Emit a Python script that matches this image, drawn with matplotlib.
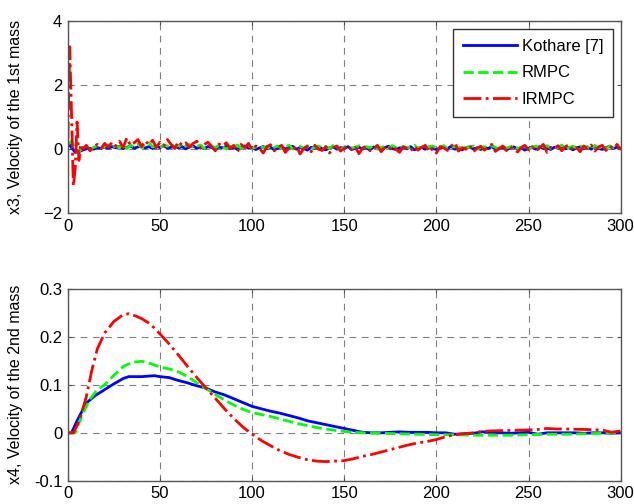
import numpy as np
import matplotlib
matplotlib.use("Agg")
import matplotlib.pyplot as plt

plt.rcParams['font.family'] = ['Liberation Sans', 'DejaVu Sans']

# ---- top panel: x3, velocity of the 1st mass (noisy), sampled every 2 steps
t_top = np.arange(0, 301, 2)
x3_kothare = [0.20, 0.05, -0.10, -0.08, -0.03, 0.01, 0.03, 0.00, 0.05, 0.02,
              0.07, 0.03, 0.08, 0.04, 0.09, 0.02, 0.06, 0.10, 0.03, 0.07,
              0.11, 0.04, 0.08, 0.02, 0.09, 0.05, 0.12, 0.03, 0.06, 0.09,
              0.04, 0.08, 0.01, 0.07, 0.10, 0.03, 0.06, 0.02, 0.08, 0.05,
              0.01, 0.07, 0.04, 0.09, 0.02, 0.05, 0.00, 0.06, 0.10, 0.03,
              0.05, -0.01, 0.04, 0.08, 0.02, 0.06, -0.02, 0.03, 0.07, 0.01,
              0.04, 0.09, 0.00, 0.05, 0.02, -0.03, 0.06, 0.03, 0.08, 0.01,
              -0.02, 0.04, 0.07, 0.00, 0.05, 0.02, 0.08, -0.01, 0.03, 0.06,
              0.01, 0.04, -0.02, 0.07, 0.03, 0.00, 0.05, 0.09, 0.02, -0.01,
              0.04, 0.06, 0.01, 0.08, -0.02, 0.03, 0.05, 0.00, 0.07, 0.02,
              -0.01, 0.04, 0.06, 0.02, 0.09, 0.00, 0.03, -0.02, 0.05, 0.07,
              0.01, 0.04, -0.01, 0.06, 0.02, 0.08, 0.00, 0.03, 0.05, -0.02,
              0.04, 0.07, 0.01, 0.05, -0.03, 0.03, 0.06, 0.00, 0.08, 0.02,
              0.04, -0.01, 0.06, 0.03, 0.09, 0.01, 0.05, -0.02, 0.04, 0.07,
              0.02, 0.06, 0.00, 0.08, 0.03, -0.01, 0.05, 0.09, 0.02, 0.06,
              0.03]
x3_rmpc = [0.15, 0.25, 0.02, -0.08, 0.04, 0.07, -0.02, 0.06, 0.10, 0.03,
           0.09, 0.14, 0.04, 0.11, 0.06, 0.15, 0.02, 0.12, 0.08, 0.16,
           0.05, 0.13, 0.20, 0.07, 0.11, 0.03, 0.14, 0.09, 0.17, 0.06,
           0.12, 0.04, 0.10, 0.15, 0.05, 0.09, 0.13, 0.02, 0.08, 0.11,
           0.04, 0.12, 0.07, 0.01, 0.10, 0.06, 0.13, 0.03, 0.08, 0.11,
           0.02, 0.07, 0.12, 0.04, 0.09, -0.01, 0.06, 0.10, 0.03, 0.08,
           0.12, 0.01, 0.05, 0.09, 0.03, 0.11, 0.00, 0.06, 0.10, 0.04,
           0.08, 0.02, 0.12, 0.05, -0.01, 0.07, 0.10, 0.03, 0.06, 0.11,
           0.02, 0.08, 0.04, 0.13, 0.00, 0.06, 0.09, 0.03, 0.11, 0.05,
           0.01, 0.09, 0.04, 0.07, 0.12, 0.02, 0.06, -0.02, 0.08, 0.10,
           0.03, 0.07, 0.11, 0.00, 0.05, 0.09, 0.02, 0.12, 0.04, 0.06,
           0.10, -0.01, 0.05, 0.08, 0.03, 0.11, 0.06, 0.00, 0.09, 0.04,
           0.07, 0.12, 0.02, 0.06, 0.09, -0.01, 0.05, 0.10, 0.03, 0.08,
           0.11, 0.02, 0.07, 0.04, 0.13, 0.00, 0.06, 0.09, 0.03, 0.10,
           0.05, 0.08, -0.01, 0.12, 0.04, 0.07, 0.02, 0.10, 0.05, 0.08,
           0.04]
# IRMPC: first samples every step (big transient), then every 2 steps
t_irmpc_early = [0, 1, 2, 3, 4, 5, 6, 7]
x3_irmpc_early = [0.30, 3.20, 1.10, -1.15, -0.60, 0.85, -0.35, 0.15]
t_irmpc_late = np.arange(8, 301, 2)
x3_irmpc_late = [0.00, 0.12, -0.05, 0.08, 0.15, 0.02, 0.18, 0.06, 0.22, 0.10,
                 0.25, 0.05, 0.35, 0.12, 0.20, 0.30, 0.08, 0.26, 0.14, 0.28,
                 0.05, 0.22, 0.10, 0.30, 0.15, 0.02, 0.24, 0.12, 0.20, 0.06,
                 0.18, 0.25, 0.03, 0.14, 0.22, 0.08, -0.05, 0.16, 0.10, 0.20,
                 0.02, 0.12, -0.08, 0.15, 0.05, 0.18, -0.02, 0.10, 0.03, -0.12,
                 0.08, 0.14, -0.05, 0.06, 0.12, -0.10, 0.04, -0.02, 0.10, -0.15,
                 0.02, 0.09, -0.08, 0.12, 0.00, -0.04, 0.08, -0.12, 0.05, 0.10,
                 -0.06, 0.03, 0.11, -0.02, 0.06, -0.14, 0.04, 0.09, -0.05, 0.02,
                 0.12, -0.08, 0.05, -0.02, 0.10, 0.00, -0.10, 0.07, 0.03, -0.05,
                 0.09, -0.03, 0.06, 0.12, -0.08, 0.02, -0.12, 0.08, 0.04, -0.04,
                 0.10, 0.20, -0.06, 0.05, 0.00, 0.12, -0.08, 0.03, 0.09, -0.03,
                 0.06, 0.15, -0.07, 0.02, 0.10, -0.04, 0.07, 0.01, -0.09, 0.05,
                 0.12, -0.02, 0.08, -0.06, 0.04, 0.15, -0.10, 0.06, 0.02, 0.11,
                 -0.05, 0.08, 0.14, -0.03, 0.05, -0.08, 0.10, 0.02, 0.13, -0.06,
                 0.07, 0.12, -0.04, 0.09, 0.02, 0.15, -0.02]

# ---- bottom panel: x4, velocity of the 2nd mass (smooth)
t_kothare = [0, 2, 5, 10, 15, 20, 25, 30, 33, 40, 47, 50, 55, 60, 65, 70, 75, 80,
             85, 90, 95, 100, 105, 110, 115, 120, 125, 130, 135, 140, 145, 150,
             155, 160, 165, 170, 175, 180, 185, 190, 195, 200, 205, 210, 215,
             220, 225, 230, 235, 240, 245, 250, 255, 260, 265, 270, 275, 280,
             285, 290, 295, 300]
x4_kothare = [0, 0, 0.025, 0.062, 0.078, 0.090, 0.102, 0.113, 0.117, 0.117,
              0.119, 0.117, 0.115, 0.109, 0.104, 0.098, 0.093, 0.085, 0.079,
              0.071, 0.063, 0.055, 0.050, 0.045, 0.041, 0.036, 0.031, 0.025,
              0.021, 0.017, 0.013, 0.009, 0.005, 0.001, 0.0, 0.0, 0.001, 0.002,
              0.001, 0.001, 0.001, 0.0, 0.0, -0.003, -0.002, -0.001, 0.002,
              0.001, 0.0, -0.001, 0.0, 0.001, -0.003, 0.0, 0.0, 0.0, 0.0,
              -0.001, 0.0, 0.0, -0.001, 0.0]
t_rmpc = [0, 4, 8, 12, 16, 20, 25, 30, 35, 40, 45, 50, 55, 60, 65, 70, 75, 80,
          85, 90, 95, 100, 105, 110, 115, 120, 125, 130, 135, 140, 145, 150,
          155, 160, 170, 180, 190, 200, 210, 220, 230, 240, 250, 260, 270, 280,
          290, 300]
x4_rmpc = [0, 0, 0.040, 0.070, 0.090, 0.100, 0.120, 0.138, 0.147, 0.149, 0.144,
           0.137, 0.133, 0.127, 0.117, 0.104, 0.092, 0.080, 0.068, 0.058, 0.049,
           0.042, 0.038, 0.034, 0.029, 0.024, 0.019, 0.015, 0.011, 0.008, 0.005,
           0.003, 0.001, 0.0, -0.001, -0.002, -0.003, -0.004, -0.004, -0.005,
           -0.005, -0.005, -0.004, -0.003, -0.003, -0.002, -0.001, 0.0]
t_irmpc = [0, 3, 5, 7, 10, 13, 16, 20, 25, 30, 33, 37, 40, 45, 50, 55, 60, 65,
           70, 75, 80, 85, 90, 95, 100, 105, 110, 115, 120, 125, 130, 135, 140,
           145, 150, 155, 160, 165, 170, 175, 180, 185, 190, 195, 200, 205, 210,
           215, 220, 225, 230, 240, 250, 255, 260, 265, 270, 280, 290, 295, 300]
x4_irmpc = [0, 0, 0.015, 0.035, 0.075, 0.130, 0.175, 0.208, 0.232, 0.246, 0.248,
            0.243, 0.238, 0.226, 0.206, 0.185, 0.162, 0.138, 0.115, 0.093, 0.072,
            0.050, 0.030, 0.012, -0.003, -0.016, -0.027, -0.037, -0.045, -0.051,
            -0.056, -0.059, -0.060, -0.059, -0.058, -0.054, -0.049, -0.045,
            -0.040, -0.035, -0.030, -0.025, -0.021, -0.018, -0.014, -0.008,
            -0.004, -0.002, 0.0, 0.003, 0.004, 0.005, 0.006, 0.007, 0.009, 0.008,
            0.008, 0.007, 0.006, 0.001, 0.004]

labels = ['Kothare [7]', 'RMPC', 'IRMPC']
BLUE, GREEN, RED = '#0000ff', '#00ff00', '#ff0000'


def style_axes(ax, ylim, yticks, ylabel):
    ax.set_xlim(0, 300)
    ax.set_ylim(*ylim)
    ax.set_xticks([0, 50, 100, 150, 200, 250, 300])
    ax.set_yticks(yticks)
    ax.grid(True, color='#7f7f7f', linestyle=(0, (6, 5)), linewidth=0.8)
    ax.tick_params(direction='in', length=3, labelsize=12, color='#555555',
                   top=True, right=True, pad=4)
    for s in ax.spines.values():
        s.set_color('#555555')
        s.set_linewidth(1.0)
    ax.set_ylabel(ylabel, fontsize=11.5)
    ax.yaxis.set_label_coords(-0.082, 0.5)


fig = plt.figure(figsize=(6.34, 5.04), dpi=100)
ax1 = fig.add_axes([0.107, 0.577, 0.872, 0.381])
ax2 = fig.add_axes([0.107, 0.046, 0.872, 0.381])

t_irmpc_top = np.concatenate([t_irmpc_early, t_irmpc_late])
x3_irmpc = np.concatenate([x3_irmpc_early, x3_irmpc_late])

ax1.plot(t_top, x3_kothare, color=BLUE, lw=2, label=labels[0])
ax1.plot(t_top, x3_rmpc, color=GREEN, lw=2, ls='--', label=labels[1])
ax1.plot(t_irmpc_top, x3_irmpc, color=RED, lw=2, ls='-.', label=labels[2])
style_axes(ax1, (-2, 4), [-2, 0, 2, 4], 'x3, Velocity of the 1st mass')
leg = ax1.legend(loc='upper right', fontsize=12, fancybox=False, framealpha=1,
                 edgecolor='#333333', handlelength=3.2, handletextpad=0.3,
                 borderaxespad=0.45, labelspacing=0.7, borderpad=0.6)
leg.get_frame().set_linewidth(1.0)

ax2.plot(t_kothare, x4_kothare, color=BLUE, lw=2)
ax2.plot(t_rmpc, x4_rmpc, color=GREEN, lw=2, ls='--')
ax2.plot(t_irmpc, x4_irmpc, color=RED, lw=2, ls='-.')
style_axes(ax2, (-0.1, 0.3), [-0.1, 0, 0.1, 0.2, 0.3], 'x4, Velocity of the 2nd mass')
ax2.set_yticklabels(['-0.1', '0', '0.1', '0.2', '0.3'])

fig.savefig('out.png', dpi=100)
